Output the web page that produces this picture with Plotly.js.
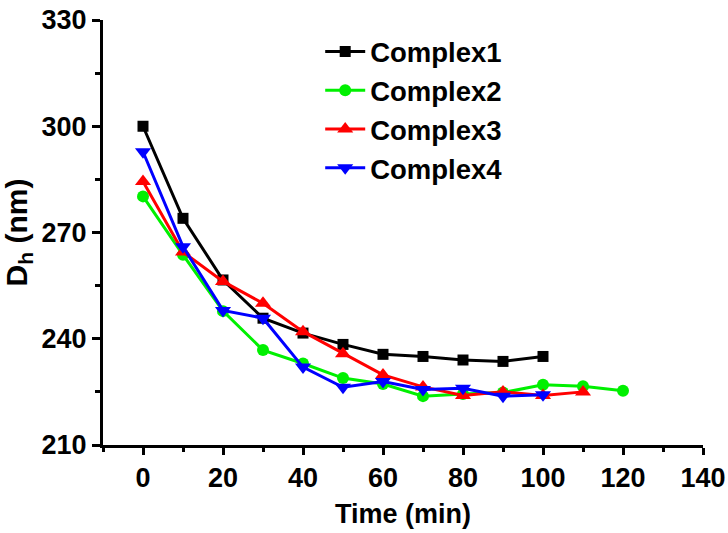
<!DOCTYPE html>
<html>
<head>
<meta charset="utf-8">
<script src="https://cdn.plot.ly/plotly-3.0.1.min.js"></script>
<style>html,body{margin:0;padding:0;background:#fff;}#chart{width:728px;height:533px;}</style>
</head>
<body>
<div id="chart"></div>
<script>
const time1 = [0,10,20,30,40,50,60,70,80,90,100];
const time2 = [0,10,20,30,40,50,60,70,80,90,100,110,120];
const time3 = [0,10,20,30,40,50,60,70,80,90,100,110];
const time4 = [0,10,20,30,40,50,60,70,80,90,100];
const complex1 = [300, 274, 256.6, 245.8, 241.6, 238.4, 235.6, 235, 234, 233.6, 235];
const complex2 = [280.2, 263.7, 247.8, 236.8, 233, 228.9, 227.2, 223.8, 224.4, 224.8, 227, 226.6, 225.3];
const complex3 = [284.4, 264.5, 256.2, 250, 242, 235.8, 229.8, 226.4, 224, 225, 224, 225];
const complex4 = [292.8, 266, 248, 245.8, 232, 226.3, 227.9, 225.7, 226, 223.8, 224.2];
const names = ['Complex1','Complex2','Complex3','Complex4'];
const colors = ['#000000','#00f000','#ff0000','#0000ff'];
const symbols = ['square','circle','triangle-up','triangle-down'];
const sizes = [11, 12, 14, 14];

const xs = [time1, time2, time3, time4];
const ys = [complex1, complex2, complex3, complex4];
const font = {family: '"Liberation Sans", Arial, sans-serif', size: 27, color: '#000', weight: 'bold'};

const traces = names.map((n, i) => ({
  x: xs[i], y: ys[i], name: n, type: 'scatter', mode: 'lines+markers',
  line: {color: colors[i], width: 3},
  marker: {color: colors[i], symbol: symbols[i], size: sizes[i]}
}));

const layout = {
  width: 728, height: 533,
  margin: {l: 103, r: 25, t: 20, b: 88},
  paper_bgcolor: '#fff', plot_bgcolor: '#fff',
  font: font,
  showlegend: true,
  legend: {x: 0.362, y: 0.983, xanchor: 'left', yanchor: 'top', bgcolor: 'rgba(0,0,0,0)',
           font: Object.assign({}, font, {size: 27.5}), itemwidth: 40, tracegroupgap: 0},
  xaxis: {
    range: [-10, 140], tickvals: [0,20,40,60,80,100,120,140],
    showline: true, linecolor: '#000', linewidth: 3, mirror: false,
    ticks: 'outside', ticklen: 7, tickwidth: 3, tickcolor: '#000',
    minor: {dtick: 10, tick0: 0, ticks: 'outside', ticklen: 4, tickwidth: 3, tickcolor: '#000', showgrid: false},
    showgrid: false, zeroline: false, tickfont: font,
    title: {text: 'Time (min)', font: font, standoff: 12}
  },
  yaxis: {
    range: [210, 330], tickvals: [210,240,270,300,330],
    showline: true, linecolor: '#000', linewidth: 3, mirror: false,
    ticks: 'outside', ticklen: 8, tickwidth: 3, tickcolor: '#000',
    minor: {dtick: 15, tick0: 210, ticks: 'outside', ticklen: 5, tickwidth: 3, tickcolor: '#000', showgrid: false},
    showgrid: false, zeroline: false, tickfont: font,
    title: {text: 'D<sub>h</sub> (nm)', font: Object.assign({}, font, {size: 30}), standoff: 8}
  }
};
Plotly.newPlot('chart', traces, layout, {displayModeBar: false, staticPlot: true});
</script>
</body>
</html>
